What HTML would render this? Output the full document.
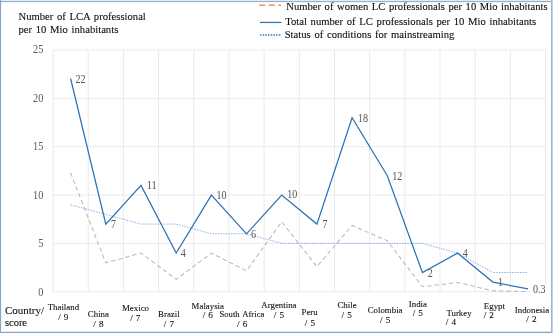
<!DOCTYPE html>
<html><head><meta charset="utf-8"><title>chart</title>
<style>
html,body{margin:0;padding:0;background:#fff;}
body{width:553px;height:333px;overflow:hidden;font-family:"Liberation Serif",serif;}
svg{display:block;will-change:transform;}
text{font-family:"Liberation Serif",serif;}
.t{font-size:11.4px;fill:#111;stroke:#111;stroke-width:0.12px;word-spacing:1.1px;}
.ax{font-size:12px;fill:#5a5a5a;}
.dl{font-size:11.7px;fill:#555;}
.c{font-size:9.2px;fill:#111;stroke:#111;stroke-width:0.1px;word-spacing:0.9px;}
</style></head><body>
<svg width="553" height="333" viewBox="0 0 553 333">
<rect x="0" y="0" width="553" height="333" fill="#fff"/>

<g shape-rendering="crispEdges"><rect x="0" y="0" width="553" height="1" fill="#e4ebf3"/><rect x="0" y="1" width="553" height="1" fill="#98b0cf"/><rect x="0" y="2" width="553" height="1" fill="#f1f4f8"/><rect x="0" y="331" width="553" height="1" fill="#e3e9f1"/><rect x="0" y="332" width="553" height="1" fill="#87a2c3"/><rect x="551" y="0" width="1" height="333" fill="#9db5d3"/><rect x="552" y="0" width="1" height="333" fill="#c5d3e3"/><rect x="0" y="0" width="1" height="333" fill="#8aa5c4"/><rect x="1" y="2" width="1" height="330" fill="#f3f6f9"/></g>
<g stroke="#eaeaea" stroke-width="1"><line x1="52.55" y1="291.80" x2="546.07" y2="291.80"/><line x1="52.55" y1="243.44" x2="546.07" y2="243.44"/><line x1="52.55" y1="195.08" x2="546.07" y2="195.08"/><line x1="52.55" y1="146.72" x2="546.07" y2="146.72"/><line x1="52.55" y1="98.36" x2="546.07" y2="98.36"/><line x1="52.55" y1="50.00" x2="546.07" y2="50.00"/><line x1="53.05" y1="50.00" x2="53.05" y2="291.80"/><line x1="88.23" y1="50.00" x2="88.23" y2="291.80"/><line x1="123.41" y1="50.00" x2="123.41" y2="291.80"/><line x1="158.59" y1="50.00" x2="158.59" y2="291.80"/><line x1="193.77" y1="50.00" x2="193.77" y2="291.80"/><line x1="228.95" y1="50.00" x2="228.95" y2="291.80"/><line x1="264.13" y1="50.00" x2="264.13" y2="291.80"/><line x1="299.31" y1="50.00" x2="299.31" y2="291.80"/><line x1="334.49" y1="50.00" x2="334.49" y2="291.80"/><line x1="369.67" y1="50.00" x2="369.67" y2="291.80"/><line x1="404.85" y1="50.00" x2="404.85" y2="291.80"/><line x1="440.03" y1="50.00" x2="440.03" y2="291.80"/><line x1="475.21" y1="50.00" x2="475.21" y2="291.80"/><line x1="510.39" y1="50.00" x2="510.39" y2="291.80"/><line x1="545.57" y1="50.00" x2="545.57" y2="291.80"/></g>
<polyline points="70.6,172.8 105.8,262.8 141.0,253.1 176.2,279.4 211.4,253.1 246.5,270.8 281.7,221.8 316.9,266.6 352.1,225.5 387.3,240.7 422.4,286.8 457.6,282.5 492.8,290.8 528.0,291.6" fill="none" stroke="#b9b9b9" stroke-width="1.05" stroke-dasharray="4.4,2.9"/>
<polyline points="70.6,204.8 105.8,214.4 141.0,224.1 176.2,224.1 211.4,233.8 246.5,233.8 281.7,243.4 316.9,243.4 352.1,243.4 387.3,243.4 422.4,243.4 457.6,253.1 492.8,272.5 528.0,272.5" fill="none" stroke="#76a7dc" stroke-width="0.9" stroke-dasharray="1.4,1.25"/>
<polyline points="70.6,78.5 105.8,224.1 141.0,185.4 176.2,253.1 211.4,195.1 246.5,233.8 281.7,195.1 316.9,224.1 352.1,117.7 387.3,175.7 422.4,272.5 457.6,253.1 492.8,282.1 528.0,288.9" fill="none" stroke="#2e72b5" stroke-width="1.25" stroke-linejoin="miter"/>
<rect x="531.5" y="284.5" width="15.5" height="9" fill="#fff"/>
<text class="ax" x="38.24" y="295.60" textLength="5.16" lengthAdjust="spacingAndGlyphs">0</text>
<text class="ax" x="38.24" y="247.12" textLength="5.16" lengthAdjust="spacingAndGlyphs">5</text>
<text class="ax" x="33.08" y="198.64" textLength="10.32" lengthAdjust="spacingAndGlyphs">10</text>
<text class="ax" x="33.08" y="150.16" textLength="10.32" lengthAdjust="spacingAndGlyphs">15</text>
<text class="ax" x="33.08" y="101.68" textLength="10.32" lengthAdjust="spacingAndGlyphs">20</text>
<text class="ax" x="33.08" y="53.20" textLength="10.32" lengthAdjust="spacingAndGlyphs">25</text>
<text class="dl" x="75.60" y="82.6" textLength="10.06" lengthAdjust="spacingAndGlyphs">22</text>
<text class="dl" x="111.10" y="227.8" textLength="5.03" lengthAdjust="spacingAndGlyphs">7</text>
<text class="dl" x="146.70" y="189.2" textLength="10.06" lengthAdjust="spacingAndGlyphs">11</text>
<text class="dl" x="180.70" y="256.8" textLength="5.03" lengthAdjust="spacingAndGlyphs">4</text>
<text class="dl" x="216.50" y="199.2" textLength="10.06" lengthAdjust="spacingAndGlyphs">10</text>
<text class="dl" x="251.10" y="237.6" textLength="5.03" lengthAdjust="spacingAndGlyphs">6</text>
<text class="dl" x="287.30" y="198.4" textLength="10.06" lengthAdjust="spacingAndGlyphs">10</text>
<text class="dl" x="322.50" y="227.7" textLength="5.03" lengthAdjust="spacingAndGlyphs">7</text>
<text class="dl" x="358.00" y="121.9" textLength="10.06" lengthAdjust="spacingAndGlyphs">18</text>
<text class="dl" x="392.20" y="179.5" textLength="10.06" lengthAdjust="spacingAndGlyphs">12</text>
<text class="dl" x="427.70" y="276.7" textLength="5.03" lengthAdjust="spacingAndGlyphs">2</text>
<text class="dl" x="462.80" y="257.2" textLength="5.03" lengthAdjust="spacingAndGlyphs">4</text>
<text class="dl" x="498.10" y="285.7" textLength="5.03" lengthAdjust="spacingAndGlyphs">1</text>
<text class="dl" x="532.90" y="292.8" textLength="12.58" lengthAdjust="spacingAndGlyphs">0.3</text>
<text class="t" x="18.5" y="20.4" textLength="127.3" lengthAdjust="spacingAndGlyphs">Number of LCA professional</text>
<text class="t" x="18.5" y="32.6" textLength="99.8" lengthAdjust="spacingAndGlyphs">per 10 Mio inhabitants</text>
<line x1="259.3" y1="5.05" x2="281" y2="5.05" stroke="#e9782c" stroke-width="1.25" stroke-dasharray="6,3.5"/>
<line x1="260" y1="22.45" x2="281.5" y2="22.45" stroke="#2e75b6" stroke-width="1.25"/>
<line x1="260" y1="35" x2="280.4" y2="35" stroke="#3a7cc0" stroke-width="1.7" stroke-dasharray="1.55,1.13"/>
<text class="t" x="286.3" y="10.2" textLength="261.2" lengthAdjust="spacingAndGlyphs">Number of women LC professionals per 10 Mio inhabitants</text>
<text class="t" x="285.2" y="24.8" textLength="251" lengthAdjust="spacingAndGlyphs">Total number of LC professionals per 10 Mio inhabitants</text>
<text class="t" x="284.7" y="37.7" textLength="169.6" lengthAdjust="spacingAndGlyphs">Status of conditions for mainstreaming</text>
<text class="t" x="5" y="313.9" textLength="39" lengthAdjust="spacingAndGlyphs">Country/</text>
<text class="t" x="5" y="325.7" textLength="22" lengthAdjust="spacingAndGlyphs">score</text>
<text class="c" x="47.7" y="309.5" textLength="31.39" lengthAdjust="spacingAndGlyphs">Thailand</text>
<text class="c" x="63.3" y="319.9" text-anchor="middle">/ 9</text>
<text class="c" x="87.85" y="316.6" textLength="21.1" lengthAdjust="spacingAndGlyphs">China</text>
<text class="c" x="98.4" y="327.1" text-anchor="middle">/ 8</text>
<text class="c" x="122.01" y="310.8" textLength="26.98" lengthAdjust="spacingAndGlyphs">Mexico</text>
<text class="c" x="135.3" y="321.1" text-anchor="middle">/ 7</text>
<text class="c" x="158.11" y="316.8" textLength="21.58" lengthAdjust="spacingAndGlyphs">Brazil</text>
<text class="c" x="168.9" y="326.9" text-anchor="middle">/ 7</text>
<text class="c" x="191.61" y="308.5" textLength="32.37" lengthAdjust="spacingAndGlyphs">Malaysia</text>
<text class="c" x="207.8" y="318.2" text-anchor="middle">/ 6</text>
<text class="c" x="219.46" y="317.0" textLength="44.89" lengthAdjust="spacingAndGlyphs">South Africa</text>
<text class="c" x="242.2" y="327.3" text-anchor="middle">/ 6</text>
<text class="c" x="261.32" y="308.2" textLength="35.16" lengthAdjust="spacingAndGlyphs">Argentina</text>
<text class="c" x="278.9" y="318.1" text-anchor="middle">/ 5</text>
<text class="c" x="301.51" y="315.3" textLength="16.19" lengthAdjust="spacingAndGlyphs">Peru</text>
<text class="c" x="310" y="325.5" text-anchor="middle">/ 5</text>
<text class="c" x="337.43" y="308.4" textLength="19.13" lengthAdjust="spacingAndGlyphs">Chile</text>
<text class="c" x="346.7" y="318.4" text-anchor="middle">/ 5</text>
<text class="c" x="367.68" y="312.7" textLength="34.84" lengthAdjust="spacingAndGlyphs">Colombia</text>
<text class="c" x="385.2" y="322.6" text-anchor="middle">/ 5</text>
<text class="c" x="408.83" y="306.6" textLength="18.15" lengthAdjust="spacingAndGlyphs">India</text>
<text class="c" x="417.8" y="316.2" text-anchor="middle">/ 5</text>
<text class="c" x="446.4" y="315.6" textLength="25.19" lengthAdjust="spacingAndGlyphs">Turkey</text>
<text class="c" x="450.9" y="325.3" text-anchor="middle">/ 4</text>
<text class="c" x="483.85" y="308.5" textLength="21.1" lengthAdjust="spacingAndGlyphs">Egypt</text>
<text class="c" x="488.8" y="318.4" text-anchor="middle">/ 2</text>
<text class="c" x="514.83" y="312.7" textLength="34.34" lengthAdjust="spacingAndGlyphs">Indonesia</text>
<text class="c" x="531.5" y="322.4" text-anchor="middle">/ 2</text>
</svg></body></html>
